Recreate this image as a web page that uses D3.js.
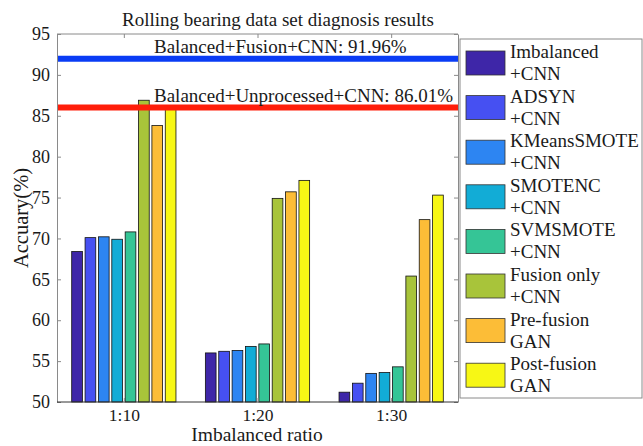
<!DOCTYPE html>
<html>
<head>
<meta charset="utf-8">
<script src="https://cdn.jsdelivr.net/npm/d3@7"></script>
<style>
  body { margin: 0; background: #fff; }
  text { font-family: "Liberation Serif", "Times New Roman", serif; fill: #1a1a1a; }
</style>
</head>
<body>
<div id="chart"></div>
<script>
// Data
const ratios = ['1:10', '1:20', '1:30'];
const methods = [
  ['Imbalanced', '+CNN'],
  ['ADSYN', '+CNN'],
  ['KMeansSMOTE', '+CNN'],
  ['SMOTENC', '+CNN'],
  ['SVMSMOTE', '+CNN'],
  ['Fusion only', '+CNN'],
  ['Pre-fusion', 'GAN'],
  ['Post-fusion', 'GAN']
];
const accuracy10 = [68.4, 70.1, 70.2, 69.9, 70.8, 86.9, 83.8, 85.9];
const accuracy20 = [56.0, 56.2, 56.3, 56.8, 57.1, 74.9, 75.7, 77.1];
const accuracy30 = [51.2, 52.3, 53.5, 53.6, 54.3, 65.4, 72.3, 75.3];
const yTicks = [50, 55, 60, 65, 70, 75, 80, 85, 90, 95];
const refLines = [
  {label: 'Balanced+Fusion+CNN: 91.96%', value: 91.96, color: '#0a3cf5'},
  {label: 'Balanced+Unprocessed+CNN: 86.01%', value: 86.01, color: '#ff1e0a'}
];
const colors = ['#3e26a8', '#4650f2', '#2d85f2', '#12acd6', '#35c596', '#a8c43a', '#fcbd37', '#f7f715'];

const seriesByRatio = [accuracy10, accuracy20, accuracy30];

// Dimensions
const width = 643;
const height = 446;
const plot = {left: 57, right: 458, top: 34, bottom: 402};

const svg = d3.select('#chart')
  .append('svg')
    .attr('width', width)
    .attr('height', height);

// Scales
const scaleX = d3.scaleBand()
  .domain(ratios)
  .range([plot.left, plot.right])
  .padding(0);
const bw = scaleX.bandwidth();
const scaleInner = d3.scaleBand()
  .domain(d3.range(methods.length))
  .range([0.1 * bw, 0.9 * bw])
  .paddingInner(0.2)
  .paddingOuter(0.1);
const scaleY = d3.scaleLinear()
  .domain([50, 95])
  .range([plot.bottom, plot.top]);

// Bars
const groups = svg.append('g')
  .selectAll('g')
  .data(ratios)
  .join('g')
    .attr('transform', (d) => `translate(${scaleX(d)},0)`);
groups.selectAll('rect')
  .data((d, i) => seriesByRatio[i].map((v, j) => ({v, j})))
  .join('rect')
    .attr('x', (d) => scaleInner(d.j))
    .attr('y', (d) => scaleY(d.v))
    .attr('width', scaleInner.bandwidth())
    .attr('height', (d) => scaleY(50) - scaleY(d.v))
    .attr('fill', (d) => colors[d.j])
    .attr('stroke', '#111')
    .attr('stroke-width', 0.8);

// Reference lines
refLines.forEach((r) => {
  svg.append('line')
    .attr('x1', plot.left)
    .attr('x2', plot.right)
    .attr('y1', scaleY(r.value))
    .attr('y2', scaleY(r.value))
    .attr('stroke', r.color)
    .attr('stroke-width', 6);
  svg.append('text')
    .attr('x', 154)
    .attr('y', scaleY(r.value) - 6)
    .attr('font-size', 19)
    .text(r.label);
});

// Axes
const axisColor = '#8a8a8a';
const styleAxis = (g) => {
  g.select('.domain').attr('stroke', axisColor);
  g.selectAll('.tick line').attr('stroke', axisColor);
  g.selectAll('.tick text')
    .attr('font-family', '"Liberation Serif", serif')
    .attr('font-size', 18)
    .attr('fill', '#1a1a1a');
};
const scaleXc = (d) => scaleX(d) + bw / 2;
const xTicks = d3.scalePoint().domain(ratios).range([scaleXc(ratios[0]), scaleXc(ratios[2])]);

svg.append('g')
  .attr('transform', `translate(${plot.left},0)`)
  .call(d3.axisLeft(scaleY).tickValues(yTicks).tickSizeInner(-4).tickSizeOuter(0).tickPadding(7))
  .call(styleAxis);
svg.append('g')
  .attr('transform', `translate(${plot.right},0)`)
  .call(d3.axisRight(scaleY).tickValues(yTicks).tickSizeInner(-4).tickSizeOuter(0).tickFormat(''))
  .call(styleAxis);

svg.append('line')
  .attr('x1', plot.left).attr('x2', plot.right)
  .attr('y1', plot.bottom).attr('y2', plot.bottom)
  .attr('stroke', '#333');
svg.append('line')
  .attr('x1', plot.left).attr('x2', plot.right)
  .attr('y1', plot.top).attr('y2', plot.top)
  .attr('stroke', axisColor);

const xAxis = svg.append('g')
  .attr('transform', `translate(0,${plot.bottom})`)
  .call(d3.axisBottom(xTicks).tickSizeInner(-4).tickSizeOuter(0).tickPadding(6.5))
  .call(styleAxis);
xAxis.selectAll('.tick text').attr('font-size', 17.5);
xAxis.select('.domain').remove();
const xTop = svg.append('g')
  .attr('transform', `translate(0,${plot.top})`)
  .call(d3.axisTop(xTicks).tickSizeInner(-4).tickSizeOuter(0).tickFormat(''))
  .call(styleAxis);
xTop.select('.domain').remove();

// Titles
svg.append('text')
  .attr('x', 278)
  .attr('y', 26)
  .attr('text-anchor', 'middle')
  .attr('font-size', 19)
  .text('Rolling bearing data set diagnosis results');
svg.append('text')
  .attr('x', 257)
  .attr('y', 441)
  .attr('text-anchor', 'middle')
  .attr('font-size', 19.5)
  .text('Imbalanced ratio');
svg.append('text')
  .attr('transform', `translate(28,${(plot.top + plot.bottom) / 2}) rotate(-90)`)
  .attr('text-anchor', 'middle')
  .attr('font-size', 20.5)
  .text('Accuary(%)');

// Legend
const legend = svg.append('g');
legend.append('rect')
  .attr('x', 460)
  .attr('y', 39)
  .attr('width', 182)
  .attr('height', 359)
  .attr('fill', '#fff')
  .attr('stroke', '#8a8a8a');
const scaleLegend = d3.scaleLinear()
  .domain([0, methods.length - 1])
  .range([63, 63 + 44.6 * (methods.length - 1)]);
methods.forEach((m, i) => {
  const cy = scaleLegend(i);
  legend.append('rect')
    .attr('x', 466)
    .attr('y', cy - 12)
    .attr('width', 39)
    .attr('height', 24)
    .attr('fill', colors[i])
    .attr('stroke', '#333')
    .attr('stroke-width', 0.8);
  legend.append('text')
    .attr('x', 510)
    .attr('y', cy - 5)
    .attr('font-size', 19)
    .text(m[0]);
  legend.append('text')
    .attr('x', 510)
    .attr('y', cy + 17)
    .attr('font-size', 19)
    .text(m[1]);
});
</script>
</body>
</html>
